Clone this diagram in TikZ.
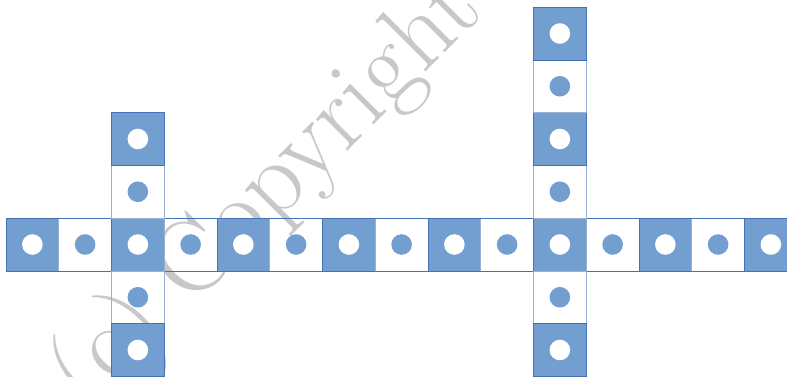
\documentclass[tikz,border=0pt]{standalone}
\usetikzlibrary{positioning}

\definecolor{cellblue}{RGB}{114,159,207}
\definecolor{celledge}{RGB}{68,114,180}
\definecolor{markgray}{RGB}{200,200,200}

\begin{document}
\begin{tikzpicture}[
        x=1pt, y=-1pt,
        node distance=52.75pt,
        cell/.style={rectangle, minimum size=52.75pt, inner sep=0pt, outer sep=0pt, line width=0.7pt},
        bluecell/.style={cell, draw=celledge, fill=cellblue,
            path picture={\fill[white] (path picture bounding box.center) circle (10.3pt);}},
        whitecell/.style={cell, draw=celledge!55,
            path picture={\fill[cellblue] (path picture bounding box.center) circle (10.3pt);}},
        watermark/.style={text=markgray, font=\fontsize{104}{104}\selectfont, rotate=45}
    ]
        \useasboundingbox (0,0) rectangle (787,377);

        % watermark behind the cells
        \node [watermark] (mark) at (268,194) {(c) Copyright};

        % horizontal row
        \foreach \i in {0,...,14} {
            \pgfmathtruncatemacro{\odd}{mod(\i,2)}
            \ifnum\odd=0
                \node [bluecell] (r\i) at ({32.375+52.75*\i},244.5) {};
            \else
                \node [whitecell] (r\i) at ({32.375+52.75*\i},244.5) {};
            \fi
        }
        \draw [celledge, line width=0.7pt] (r0.north west) rectangle (r14.south east);

        % left column
        \node [whitecell, above of=r2] (la1) {};
        \node [bluecell, above of=la1] (la2) {};
        \node [whitecell, below of=r2] (lb1) {};
        \node [bluecell, below of=lb1] (lb2) {};

        % right column
        \node [whitecell, above of=r10] (ra1) {};
        \node [bluecell, above of=ra1] (ra2) {};
        \node [whitecell, above of=ra2] (ra3) {};
        \node [bluecell, above of=ra3] (ra4) {};
        \node [whitecell, below of=r10] (rb1) {};
        \node [bluecell, below of=rb1] (rb2) {};
    \end{tikzpicture}
\end{document}
